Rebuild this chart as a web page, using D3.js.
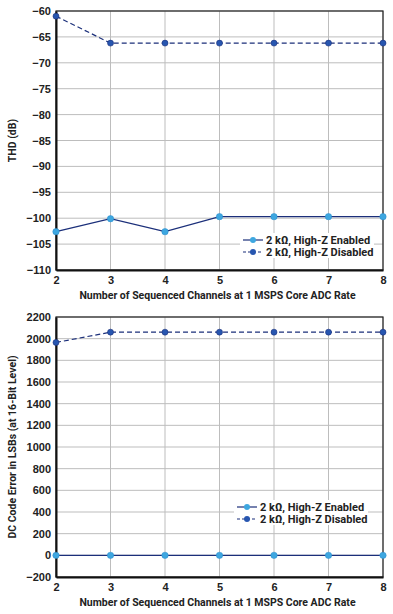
<!DOCTYPE html>
<html lang="en">
<head>
    <meta charset="UTF-8">
    <title>THD and DC code error</title>
    <style>
        body { margin: 0; background: #fff; }
        svg { font-family: Roboto, "Open Sans", sans-serif; }
        .grid line { stroke: #bdbdbd; stroke-width: 1px; }
        .tick text { font-size: 11px; font-weight: 700; fill: #222; }
        .axis-title { font-size: 10.5px; font-weight: 700; fill: #222; }
        .legend text { font-size: 11px; font-weight: 700; fill: #222; }
    </style>
    <script src="https://d3js.org/d3.v7.min.js"></script>
</head>
<body>
    <div id="chart"></div>
    <script>
        // shared x values
        const channels = [2, 3, 4, 5, 6, 7, 8];
        const seriesNames = ['2 k\u03a9, High-Z Enabled', '2 k\u03a9, High-Z Disabled'];

        // top chart: THD
        const thdEnabled = [-102.6, -100.1, -102.6, -99.7, -99.7, -99.7, -99.7];
        const thdDisabled = [-61.0, -66.2, -66.2, -66.2, -66.2, -66.2, -66.2];
        const thdTicks = [-60, -65, -70, -75, -80, -85, -90, -95, -100, -105, -110];

        // bottom chart: DC code error
        const dcEnabled = [0, 0, 0, 0, 0, 0, 0];
        const dcDisabled = [1965, 2060, 2060, 2060, 2060, 2060, 2060];
        const dcTicks = [2200, 2000, 1800, 1600, 1400, 1200, 1000, 800, 600, 400, 200, 0, -200];

        const xTitle = 'Number of Sequenced Channels at 1 MSPS Core ADC Rate';

        const W = 393, H = 614;
        const left = 56, right = 383;

        const svg = d3.select("#chart").append("svg")
            .attr("width", W)
            .attr("height", H);

        const navy = '#1b2f7a';
        const lightBlue = '#3ea7e0';
        const darkBlue = '#2756b0';

        function drawPanel(cfg) {
            const g = svg.append("g");

            const x = d3.scaleLinear().domain([2, 8]).range([left, right]);
            const y = d3.scaleLinear().domain(cfg.domain).range([cfg.bottom, cfg.top]);

            // grid
            g.append("g").attr("class", "grid")
                .selectAll("line.h").data(cfg.ticks).enter().append("line")
                .attr("x1", left).attr("x2", right)
                .attr("y1", d => y(d)).attr("y2", d => y(d));
            g.append("g").attr("class", "grid")
                .selectAll("line.v").data(channels).enter().append("line")
                .attr("x1", d => x(d)).attr("x2", d => x(d))
                .attr("y1", cfg.top).attr("y2", cfg.bottom);

            // frame
            g.append("rect")
                .attr("x", left).attr("y", cfg.top)
                .attr("width", right - left).attr("height", cfg.bottom - cfg.top)
                .attr("fill", "none").attr("stroke", "#222").attr("stroke-width", 1.2);

            // axes
            const xAxis = g.append("g")
                .attr("transform", `translate(0,${cfg.bottom})`)
                .call(d3.axisBottom(x).tickValues(channels).tickSize(0).tickPadding(6)
                    .tickFormat(d3.format("d")));
            xAxis.select(".domain").attr("stroke", "#111").attr("stroke-width", 2);

            const yAxis = g.append("g")
                .attr("transform", `translate(${left},0)`)
                .call(d3.axisLeft(y).tickValues(cfg.ticks).tickSize(0).tickPadding(5)
                    .tickFormat(d => d < 0 ? '\u2212' + Math.abs(d) : d));
            yAxis.select(".domain").attr("stroke", "#111").attr("stroke-width", 2);

            // titles
            g.append("text").attr("class", "axis-title")
                .attr("x", (left + right) / 2 - 2)
                .attr("y", cfg.bottom + 29)
                .attr("text-anchor", "middle")
                .text(xTitle);

            g.append("text").attr("class", "axis-title")
                .attr("transform", `translate(12,${(cfg.top + cfg.bottom) / 2}) rotate(-90)`)
                .attr("text-anchor", "middle")
                .attr("dy", "0.35em")
                .text(cfg.yTitle);

            const line = d3.line().x((d, i) => x(channels[i])).y(d => y(d));

            // disabled (dashed)
            g.append("path").datum(cfg.disabled)
                .attr("d", line).attr("fill", "none")
                .attr("stroke", navy).attr("stroke-width", 1.2)
                .attr("stroke-dasharray", "5,3");
            g.selectAll(".dotD").data(cfg.disabled).enter().append("circle")
                .attr("cx", (d, i) => x(channels[i])).attr("cy", d => y(d))
                .attr("r", 3).attr("fill", darkBlue).attr("stroke", navy).attr("stroke-width", 0.6);

            // enabled (solid)
            g.append("path").datum(cfg.enabled)
                .attr("d", line).attr("fill", "none")
                .attr("stroke", navy).attr("stroke-width", 1.3);
            g.selectAll(".dotE").data(cfg.enabled).enter().append("circle")
                .attr("cx", (d, i) => x(channels[i])).attr("cy", d => y(d))
                .attr("r", 3.2).attr("fill", lightBlue).attr("stroke", "#2a8ccc").attr("stroke-width", 0.5);

            // legend
            const lg = g.append("g").attr("class", "legend")
                .attr("transform", `translate(${cfg.legendX},${cfg.legendY})`);
            lg.append("rect").attr("x", -3).attr("y", -7)
                .attr("width", 134).attr("height", 25).attr("fill", "#fff");
            seriesNames.forEach((name, i) => {
                const row = lg.append("g").attr("transform", `translate(0,${i * 12})`);
                row.append("line").attr("x1", 0).attr("x2", 20).attr("y1", 0).attr("y2", 0)
                    .attr("stroke", navy).attr("stroke-width", 1.2)
                    .attr("stroke-dasharray", i === 1 ? "3,2" : null);
                row.append("circle").attr("cx", 10).attr("cy", 0).attr("r", 3)
                    .attr("fill", i === 0 ? lightBlue : darkBlue);
                row.append("text").attr("x", 23).attr("dy", "0.35em").text(name);
            });
        }

        drawPanel({
            top: 11, bottom: 270, domain: [-110, -60], ticks: thdTicks,
            enabled: thdEnabled, disabled: thdDisabled, yTitle: 'THD (dB)',
            legendX: 243, legendY: 240
        });

        drawPanel({
            top: 317, bottom: 577, domain: [-200, 2200], ticks: dcTicks,
            enabled: dcEnabled, disabled: dcDisabled,
            yTitle: 'DC Code Error in LSBs (at 16-Bit Level)',
            legendX: 237, legendY: 507
        });
    </script>
</body>
</html>
